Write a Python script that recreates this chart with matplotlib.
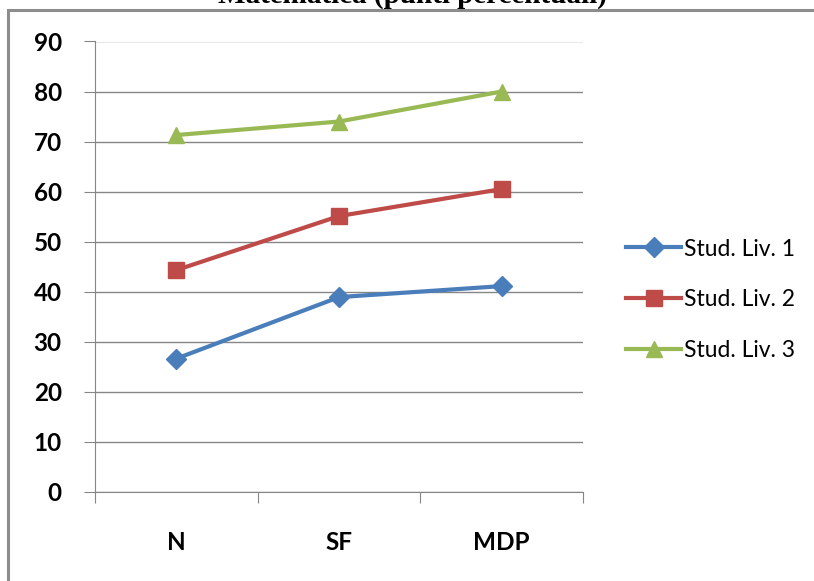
import matplotlib.pyplot as plt
from matplotlib.patches import Rectangle

categories = ["N", "SF", "MDP"]
liv1 = [26.6, 38.9, 41.1]
liv2 = [44.3, 55.1, 60.5]
liv3 = [71.3, 74.0, 80.0]
labels = ["Stud. Liv. 1", "Stud. Liv. 2", "Stud. Liv. 3"]
yticks = [0, 10, 20, 30, 40, 50, 60, 70, 80, 90]

plt.rcParams['font.family'] = ['Lato', 'DejaVu Sans']

fig = plt.figure(figsize=(8.14, 5.81), dpi=100)
ax = fig.add_axes([95/814, 1-491.7/581, (583-95)/814, (491.7-41.5)/581])

x = list(range(len(categories)))
ax.plot(x, liv1, color="#4A7EBB", lw=3, marker="D", ms=10, label=labels[0])
ax.plot(x, liv2, color="#BE4B48", lw=3, marker="s", ms=11, label=labels[1])
ax.plot(x, liv3, color="#98B954", lw=3, marker="^", ms=12, label=labels[2])

ax.set_xlim(-0.5, 2.5)
ax.set_ylim(0, 90)
ax.set_yticks(yticks)
ax.set_yticklabels([str(v) for v in yticks], fontsize=17.5, fontweight="bold")
ax.grid(axis="y", color="#868686", lw=1)
ax.set_axisbelow(True)

# category boundaries as ticks, names in between
ax.set_xticks([-0.5, 0.5, 1.5, 2.5])
ax.set_xticklabels([])
ax.set_xticks(x, minor=True)
ax.set_xticklabels(categories, minor=True, fontsize=17.5, fontweight="bold")
ax.tick_params(axis="x", which="major", length=8, color="#868686", direction="out")
ax.tick_params(axis="x", which="minor", length=0, pad=28)
ax.tick_params(axis="y", length=8, color="#868686", pad=16)

for s in ["top", "right"]:
    ax.spines[s].set_visible(False)
for s in ["left", "bottom"]:
    ax.spines[s].set_color("#868686")

fig.legend(loc="center left", bbox_to_anchor=(0.755, 0.484), frameon=False,
           fontsize=16.5, handlelength=2.4, handletextpad=0.13, labelspacing=1.3,
           borderpad=0)

# chart border (only top and left visible in the crop)
fig.patches.append(Rectangle((8/814, -0.1), 1.2, 1-10/581+0.1, transform=fig.transFigure,
                             fill=False, edgecolor="#8C8C8C", lw=2.2))

# title, mostly cut off above the border
fig.text(0.507, 1-2.5/581, "Matematica (punti percentuali)", ha="center", va="baseline",
         fontsize=21, fontweight="bold", family="Liberation Serif")

fig.savefig("out.png", dpi=100)
